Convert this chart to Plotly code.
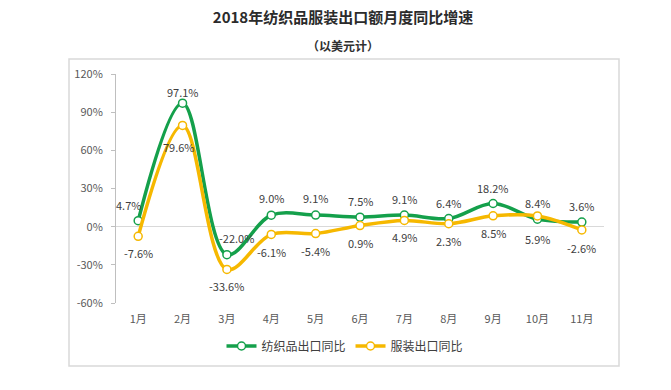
import plotly.graph_objects as go

months = ["1月", "2月", "3月", "4月", "5月", "6月", "7月", "8月", "9月", "10月", "11月"]
textile = [4.7, 97.1, -22.0, 9.0, 9.1, 7.5, 9.1, 6.4, 18.2, 5.9, 3.6]
apparel = [-7.6, 79.6, -33.6, -6.1, -5.4, 0.9, 4.9, 2.3, 8.5, 8.4, -2.6]
y_ticks = [-60, -30, 0, 30, 60, 90, 120]

# label offsets in pixels (dx, dy up-positive)
textile_off = [(-10, 16), (0, 11), (10, 17), (0, 17), (0, 17), (0, 16), (0, 16), (0, 16), (0, 16), (0, -20), (0, 16)]
apparel_off = [(0, -17), (-4, -22), (0, -17), (0, -18), (0, -17), (0, -17), (0, -17), (0, -17), (0, -17), (0, 13), (0, -18)]

GREEN = "#14a04b"
GOLD = "#f6b800"
FONT = "Noto Sans CJK SC"

L, R, T, B = 116, 67, 74, 87
pw, ph = 671 - L - R, 390 - T - B

def px_x(p):
    return (p - L) / pw

def px_y(p):
    return (390 - B - p) / ph

fig = go.Figure()
fig.add_trace(go.Scatter(
    x=months, y=textile, name="纺织品出口同比", mode="lines+markers",
    line=dict(color=GREEN, width=3.5, shape="spline", smoothing=1),
    marker=dict(size=8, color="white", line=dict(color=GREEN, width=1.5)),
))
fig.add_trace(go.Scatter(
    x=months, y=apparel, name="服装出口同比", mode="lines+markers",
    line=dict(color=GOLD, width=3.5, shape="spline", smoothing=1),
    marker=dict(size=8, color="white", line=dict(color=GOLD, width=1.5)),
))

annotations = []
for vals, offs in ((textile, textile_off), (apparel, apparel_off)):
    for m, v, (dx, dy) in zip(months, vals, offs):
        annotations.append(dict(
            x=m, y=v, xref="x", yref="y", text=f"{v:.1f}%", showarrow=False,
            xshift=dx, yshift=dy, font=dict(family=FONT, size=11, color="#404040"),
        ))
annotations.append(dict(
    x=px_x(343), y=px_y(46), xref="paper", yref="paper", text="<b>（以美元计）</b>",
    showarrow=False, font=dict(family=FONT, size=12, color="#303030"),
    xanchor="center", yanchor="middle",
))

fig.update_layout(
    width=671, height=390,
    margin=dict(l=L, r=R, t=T, b=B),
    paper_bgcolor="white", plot_bgcolor="white",
    font=dict(family=FONT, color="#404040"),
    title=dict(text="<b>2018年纺织品服装出口额月度同比增速</b>", x=343 / 671, xanchor="center",
               y=1 - 18 / 390, yanchor="middle", yref="container",
               font=dict(family=FONT, size=15, color="#2b2b2b")),
    annotations=annotations,
    shapes=[dict(type="rect", xref="paper", yref="paper",
                 x0=px_x(69), x1=px_x(619), y0=px_y(366), y1=px_y(59),
                 line=dict(color="#d9d9d9", width=1.5), layer="below")],
    showlegend=True,
    legend=dict(orientation="h", x=px_x(345), xanchor="center", y=px_y(346), yanchor="middle",
                font=dict(family=FONT, size=12, color="#404040"), itemwidth=30,
                bgcolor="rgba(0,0,0,0)"),
    xaxis=dict(type="category", range=[-0.5, 10.5], showgrid=False, showline=False,
               zeroline=False, ticks="", ticklabelstandoff=8,
               tickfont=dict(family=FONT, size=11, color="#595959")),
    yaxis=dict(range=[-60, 120], tickvals=y_ticks, ticktext=[f"{v}%" for v in y_ticks],
               showgrid=False, showline=True, linecolor="#bfbfbf", linewidth=1,
               ticks="outside", ticklen=4, tickcolor="#bfbfbf", ticklabelstandoff=6,
               zeroline=True, zerolinecolor="#d9d9d9", zerolinewidth=1,
               tickfont=dict(family=FONT, size=11, color="#595959")),
)

fig.write_html("out.html", config={"displayModeBar": False},
               post_script="document.body.style.margin='0';")
